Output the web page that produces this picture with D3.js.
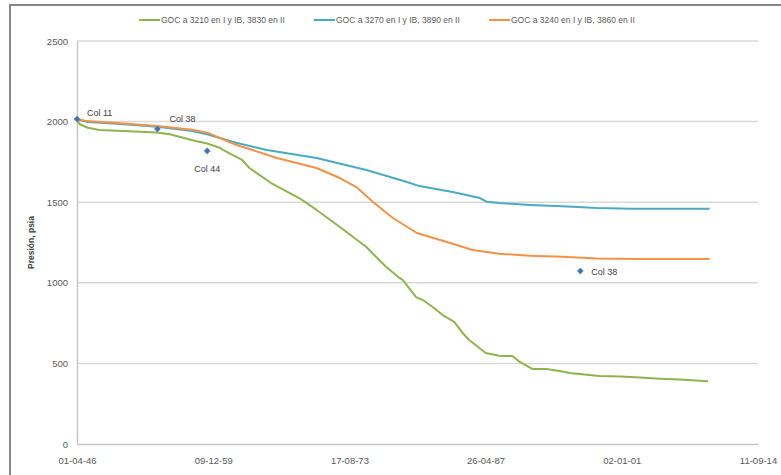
<!DOCTYPE html>
<html>
<head>
<meta charset="utf-8">
<script src="https://cdn.jsdelivr.net/npm/d3@7"></script>
<style>
  html, body { margin: 0; padding: 0; background: #fff; }
  svg { display: block; font-family: "Liberation Sans", Arial, sans-serif; }
</style>
</head>
<body>
<svg id="chart" width="781" height="475"></svg>
<script>
// Pressure history (psia) for three gas-oil-contact scenarios
const seriesNames = [
  "GOC a 3210 en I y IB, 3830 en II",
  "GOC a 3270 en I y IB, 3890 en II",
  "GOC a 3240 en I y IB, 3860 en II"
];
const seriesColors = ["#8fb44e", "#4aaac4", "#f59146"];

const goc3210 = [
  ["1946-04", 2012], ["1946-07", 1985], ["1947-05", 1962], ["1948-07", 1948],
  ["1951-07", 1940], ["1954-04", 1933], ["1955-08", 1922], ["1958-04", 1878],
  ["1959-04", 1866], ["1960-09", 1836], ["1960-12", 1824], ["1962-11", 1762],
  ["1963-08", 1712], ["1965-10", 1619], ["1968-08", 1526], ["1970-05", 1452],
  ["1972-09", 1346], ["1975-05", 1222], ["1977-05", 1098], ["1978-09", 1030],
  ["1979-01", 1017], ["1980-05", 911], ["1981-01", 893], ["1982-01", 850],
  ["1983-01", 800], ["1984-03", 757], ["1984-12", 695], ["1985-09", 645],
  ["1987-05", 565], ["1988-09", 548], ["1990-01", 546], ["1990-10", 509],
  ["1992-01", 466], ["1993-06", 465], ["1994-10", 453], ["1995-10", 440],
  ["1996-10", 434], ["1998-10", 422], ["2000-11", 418], ["2002-11", 412],
  ["2004-11", 405], ["2006-11", 400], ["2009-09", 390]
];
const goc3270 = [
  ["1946-04", 2015], ["1947-05", 1998], ["1950-04", 1987], ["1954-05", 1968],
  ["1957-11", 1942], ["1959-06", 1920], ["1962-05", 1867], ["1965-05", 1824],
  ["1970-05", 1774], ["1975-05", 1700], ["1979-06", 1625], ["1980-09", 1600],
  ["1984-01", 1563], ["1986-10", 1526], ["1987-06", 1503], ["1988-09", 1495],
  ["1991-10", 1483], ["1994-06", 1476], ["1996-02", 1472], ["1998-07", 1464],
  ["2002-01", 1460], ["2009-11", 1460]
];
const goc3240 = [
  ["1946-04", 2018], ["1947-03", 2003], ["1950-04", 1991], ["1954-05", 1973],
  ["1957-11", 1950], ["1959-06", 1930], ["1960-12", 1890], ["1962-06", 1852],
  ["1963-08", 1830], ["1966-05", 1774], ["1970-05", 1712], ["1972-09", 1650],
  ["1974-05", 1594], ["1976-01", 1501], ["1978-01", 1402], ["1980-06", 1309],
  ["1983-10", 1247], ["1986-01", 1203], ["1988-09", 1180], ["1991-10", 1168],
  ["1995-02", 1162], ["1998-07", 1150], ["2002-11", 1148], ["2009-11", 1148]
];

// Measured well pressures
const wellNames = ["Col 11", "Col 38", "Col 44", "Col 38"];
const wellDates = ["1946-04", "1954-05", "1959-05", "1996-11"];
const wellValues = [2016, 1954, 1818, 1073];

const yTicks = [0, 500, 1000, 1500, 2000, 2500];
const xTickDates = ["1946-04-01", "1959-12-09", "1973-08-17", "1987-04-26", "2001-01-02", "2014-09-11"];

const parseMonth = d3.timeParse("%Y-%m");
const parseDay = d3.timeParse("%Y-%m-%d");
const fmt = d3.timeFormat("%d-%m-%y");

const svg = d3.select("#chart");
const plot = { left: 77, right: 758, top: 41, bottom: 444 };

// Outer chart frame
svg.append("rect")
  .attr("x", 10).attr("y", 5).attr("width", 800).attr("height", 500)
  .attr("fill", "#fff").attr("stroke", "#868686").attr("stroke-width", 2);

const xTicks = xTickDates.map(parseDay);
const x = d3.scaleTime()
  .domain([xTicks[0], xTicks[xTicks.length - 1]])
  .range([plot.left, plot.right]);
const y = d3.scaleLinear().domain([0, 2500]).range([plot.bottom, plot.top]);

// Horizontal gridlines
svg.append("g")
  .selectAll("line")
  .data(yTicks.filter(t => t > 0))
  .join("line")
  .attr("x1", plot.left).attr("x2", plot.right)
  .attr("y1", d => y(d)).attr("y2", d => y(d))
  .attr("stroke", "#d9d9d9").attr("stroke-width", 1.5);

// Y axis
const yAxis = svg.append("g")
  .attr("transform", `translate(${plot.left},0)`)
  .call(d3.axisLeft(y).tickValues(yTicks).tickFormat(d3.format("d")).tickSize(0).tickPadding(9));
yAxis.select(".domain").attr("stroke", "#c8c8c8").attr("stroke-width", 1.5);
yAxis.selectAll("text").attr("fill", "#595959").style("font-size", "9.5px");

// X axis
const xAxis = svg.append("g")
  .attr("transform", `translate(0,${plot.bottom})`)
  .call(d3.axisBottom(x).tickValues(xTicks).tickFormat(fmt).tickSize(0).tickPadding(13));
xAxis.select(".domain").attr("stroke", "#c8c8c8").attr("stroke-width", 1.5);
xAxis.selectAll("text").attr("fill", "#595959").style("font-size", "9.5px");

// Y axis title
svg.append("text")
  .attr("transform", `translate(34,${(plot.top + plot.bottom) / 2}) rotate(-90)`)
  .attr("text-anchor", "middle")
  .attr("fill", "#404040")
  .style("font-size", "8.5px").style("font-weight", "bold")
  .text("Presión, psia");

// Pressure curves
const line = d3.line()
  .x(d => x(parseMonth(d[0])))
  .y(d => y(d[1]));

[goc3210, goc3270, goc3240].forEach((s, i) => {
  svg.append("path")
    .datum(s)
    .attr("fill", "none")
    .attr("stroke", seriesColors[i])
    .attr("stroke-width", 2)
    .attr("stroke-linejoin", "round")
    .attr("d", line);
});

// Well measurements as diamonds with labels
const wells = wellNames.map((n, i) => ({ name: n, date: parseMonth(wellDates[i]), value: wellValues[i] }));
const labelOffsets = [[10, -3, "start"], [12, -7, "start"], [0, 21, "middle"], [11, 4, "start"]];
svg.append("g")
  .selectAll("path")
  .data(wells)
  .join("path")
  .attr("transform", d => `translate(${x(d.date)},${y(d.value)}) rotate(45)`)
  .attr("d", d3.symbol(d3.symbolSquare, 22))
  .attr("fill", "#4472b4");
svg.append("g")
  .selectAll("text")
  .data(wells)
  .join("text")
  .attr("x", (d, i) => x(d.date) + labelOffsets[i][0])
  .attr("y", (d, i) => y(d.value) + labelOffsets[i][1])
  .attr("text-anchor", (d, i) => labelOffsets[i][2])
  .attr("fill", "#404040")
  .style("font-size", "9px")
  .text(d => d.name);

// Legend
const legend = svg.append("g").attr("transform", "translate(139,20)");
seriesNames.forEach((name, i) => {
  const g = legend.append("g").attr("transform", `translate(${i * 175},0)`);
  g.append("line").attr("x1", 0).attr("x2", 21).attr("y1", 0).attr("y2", 0)
    .attr("stroke", seriesColors[i]).attr("stroke-width", 2);
  g.append("text").attr("x", 22).attr("y", 3)
    .attr("fill", "#595959").style("font-size", "8.5px")
    .text(name);
});
</script>
</body>
</html>
